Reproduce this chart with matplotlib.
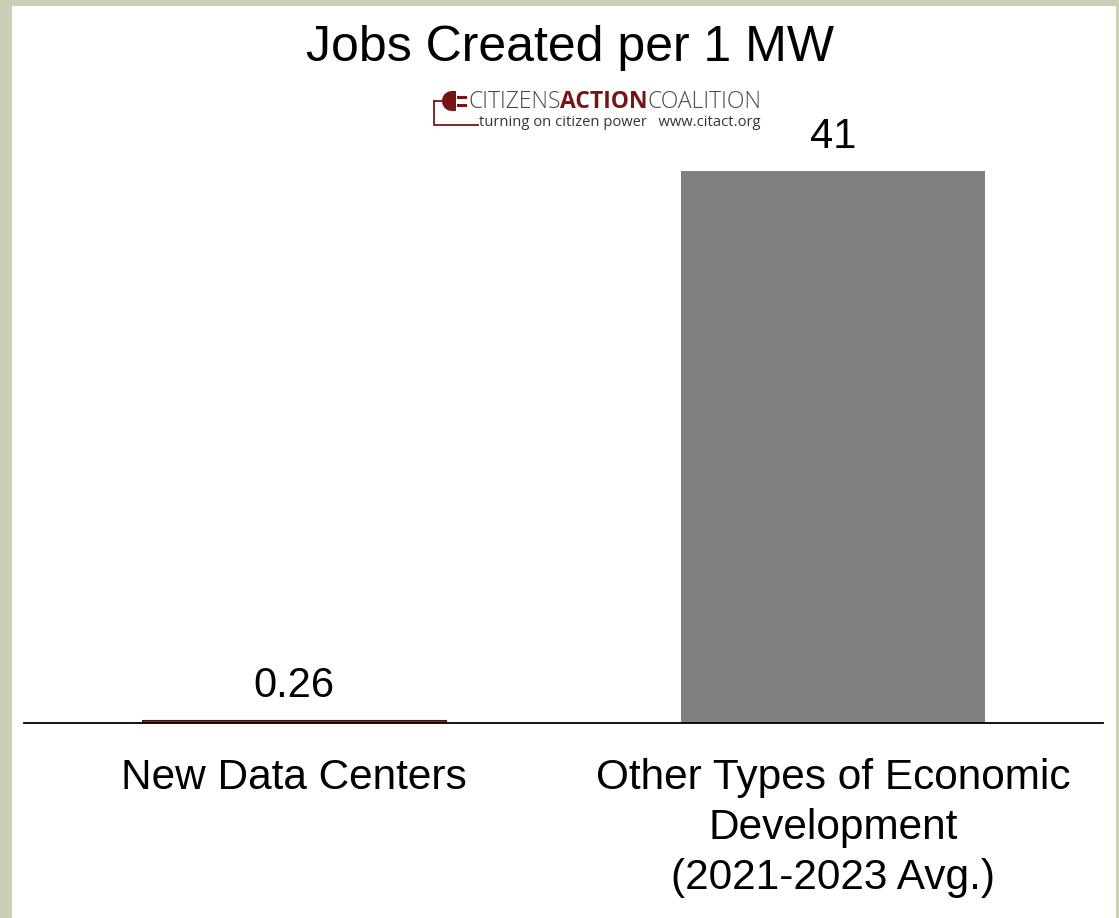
import matplotlib.pyplot as plt
from matplotlib.patches import Rectangle, Wedge

categories = ['New Data Centers', 'Other Types of Economic\nDevelopment\n(2021-2023 Avg.)']
jobs_per_mw = [0.26, 41]
value_labels = ['0.26', '41']
bar_colors = ['#8a2a2a', '#808080']

plt.rcParams['font.family'] = ['Liberation Sans', 'DejaVu Sans']

fig = plt.figure(figsize=(11.19, 9.18), dpi=100)
fig.patch.set_facecolor('#cbcfb6')

# white panel inside the greenish frame (pixel coords)
W, H = 1119, 918
fig.patches.append(Rectangle((12 / W, 0), (1116 - 12) / W, (H - 6) / H,
                             transform=fig.transFigure, facecolor='white',
                             edgecolor='none', zorder=-10))

ax = fig.add_axes([24 / W, 1 - 723 / H, (1103 - 24) / W, (723 - 100) / H])
ax.set_facecolor('none')
x = range(len(categories))
bars = ax.bar(x, jobs_per_mw, width=0.563, color=bar_colors,
              edgecolor=['#4a1010', 'none'], linewidth=[0.8, 0])
ax.bar_label(bars, labels=value_labels, padding=10, fontsize=30)
ax.set_xlim(-0.5, 1.5)
ax.set_ylim(0, (723 - 100) / 13.46)
ax.set_xticks(list(x))
ax.set_xticklabels(categories, fontsize=30.5, linespacing=1.33)
ax.tick_params(axis='x', length=0, pad=25)
ax.set_yticks([])
for s in ['top', 'left', 'right']:
    ax.spines[s].set_visible(False)
ax.spines['bottom'].set_linewidth(1.3)

fig.text(570 / W, 1 - 48 / H, 'Jobs Created per 1 MW', fontsize=36,
         ha='center', va='center')

# logo overlay in pixel coordinates
lg = fig.add_axes([0, 0, 1, 1])
lg.set_xlim(0, W)
lg.set_ylim(H, 0)
lg.axis('off')
red = '#7a1414'
lg.add_patch(Wedge((452, 101), 10, 90, 270, facecolor=red, edgecolor='none'))
lg.add_patch(Rectangle((452, 91), 4, 20, facecolor=red, edgecolor='none'))
lg.plot([458, 465], [97, 97], color=red, lw=2.2)
lg.plot([458, 465], [105, 105], color=red, lw=2.2)
lg.plot([434, 434, 478], [101, 125, 125], color=red, lw=1.3)
lg.plot([434, 442], [101, 101], color=red, lw=1.3)

t1 = lg.text(468, 102, 'CITIZENS', fontsize=16.5, color='#4a4a4a',
             family='Open Sans', fontweight='light', va='center', ha='left')
t2 = lg.annotate('ACTION', xy=(1, 0), xycoords=t1, fontsize=16.5, color=red,
                 family='Open Sans', fontweight='bold', va='bottom', ha='left')
lg.annotate('COALITION', xy=(1, 0), xycoords=t2, fontsize=16.5, color='#4a4a4a',
            family='Open Sans', fontweight='light', va='bottom', ha='left')
lg.text(479, 123, 'turning on citizen power   www.citact.org', fontsize=10.6,
        color='#333333', family='Open Sans', va='center', ha='left')

fig.savefig('out.png', dpi=100, facecolor=fig.get_facecolor())
